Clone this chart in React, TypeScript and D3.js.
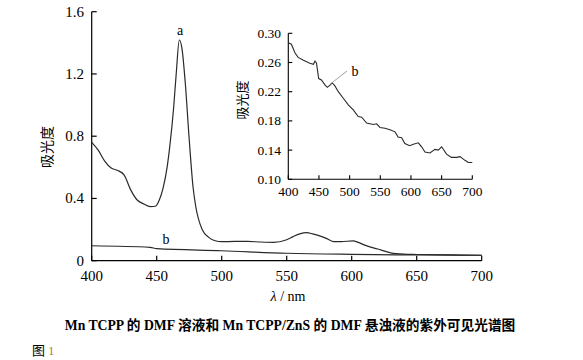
import React from "react";
import * as d3 from "d3";

const mainX = [400, 405, 410, 415, 420, 425, 430, 435, 440, 445, 449, 452, 455, 458, 460, 463, 465, 467.4, 469.5, 472, 475, 478, 480, 485, 490, 495, 500, 510, 520, 530, 540, 550, 555, 560, 565.4, 570, 580, 586, 592, 601, 605, 610, 620, 630, 640, 650, 675, 700];
const seriesA = [0.76, 0.71, 0.64, 0.595, 0.58, 0.55, 0.455, 0.39, 0.365, 0.347, 0.35, 0.39, 0.47, 0.6, 0.73, 0.98, 1.2, 1.418, 1.36, 1.14, 0.78, 0.47, 0.35, 0.2, 0.15, 0.128, 0.122, 0.124, 0.124, 0.12, 0.118, 0.135, 0.155, 0.172, 0.18, 0.172, 0.145, 0.123, 0.122, 0.128, 0.118, 0.1, 0.075, 0.05, 0.042, 0.04, 0.037, 0.035];

const bX = [400, 445, 450, 500, 550, 600, 650, 700];
const seriesB = [0.096, 0.086, 0.077, 0.064, 0.048, 0.041, 0.037, 0.035];

const insetX = [400, 405, 411, 416, 424, 435, 441, 443.5, 446, 449.5, 454, 460, 463.6, 468, 471.7, 476, 481.5, 489.7, 497.8, 506, 514, 519.6, 527.7, 538.6, 544, 549.5, 557.6, 565.8, 574, 579, 584.8, 590, 598, 603.8, 612, 617.4, 622.8, 631, 639.1, 644.6, 650, 658, 666, 674.5, 680, 688, 693.5, 700];
const insetB = [0.287, 0.285, 0.273, 0.267, 0.2635, 0.259, 0.2575, 0.262, 0.259, 0.238, 0.236, 0.229, 0.226, 0.229, 0.232, 0.228, 0.22, 0.211, 0.202, 0.195, 0.186, 0.185, 0.177, 0.175, 0.176, 0.171, 0.17, 0.168, 0.165, 0.158, 0.157, 0.149, 0.146, 0.148, 0.15, 0.1445, 0.1375, 0.136, 0.141, 0.14, 0.1445, 0.1345, 0.13, 0.13, 0.131, 0.126, 0.123, 0.123];

const mainXTicks = [400, 450, 500, 550, 600, 650, 700];
const mainYTicks = [0, 0.4, 0.8, 1.2, 1.6];
const mainYTickLabels = ["0", "0.4", "0.8", "1.2", "1.6"];
const insetXTicks = [400, 450, 500, 550, 600, 650, 700];
const insetYTicks = [0.1, 0.14, 0.18, 0.22, 0.26, 0.3];

const serif = "'Liberation Serif', 'Times New Roman', serif";
const cjk = "'Noto Sans CJK SC', sans-serif";
const lineColor = "#2a2a2a";

export default function App() {
  const x = d3.scaleLinear().domain([400, 700]).range([91.7, 481.7]);
  const y = d3.scaleLinear().domain([0, 1.6]).range([260.7, 11.7]);
  const xi = d3.scaleLinear().domain([400, 700]).range([288.3, 472.3]);
  const yi = d3.scaleLinear().domain([0.1, 0.3]).range([179.3, 33.3]);

  const lineA = d3.line<number>().x((_, i) => x(mainX[i])).y((d) => y(d)).curve(d3.curveMonotoneX);
  const lineB = d3.line<number>().x((_, i) => x(bX[i])).y((d) => y(d)).curve(d3.curveMonotoneX);
  const lineI = d3.line<number>().x((_, i) => xi(insetX[i])).y((d) => yi(d)).curve(d3.curveLinear);

  return (
    <svg width={583} height={360} style={{ position: "absolute", left: 0, top: 0, background: "#fff" }}>
      {/* main axes */}
      <g stroke="#000" strokeWidth={1.2} fill="none">
        <line x1={x(400)} x2={x(400)} y1={y(1.6)} y2={y(0)} />
        <line x1={x(400)} x2={x(700)} y1={y(0)} y2={y(0)} />
        {mainYTicks.map((t) => (
          <line key={"my" + t} x1={x(400)} x2={x(400) + 5} y1={y(t)} y2={y(t)} />
        ))}
        {mainXTicks.map((t) => (
          <line key={"mx" + t} x1={x(t)} x2={x(t)} y1={y(0)} y2={y(0) - 5} />
        ))}
      </g>
      <g fontFamily={serif} fontSize={15} fill="#000">
        {mainYTicks.map((t, i) => (
          <text key={"myl" + t} x={84} y={y(t) + 5} textAnchor="end">{mainYTickLabels[i]}</text>
        ))}
        {mainXTicks.map((t) => (
          <text key={"mxl" + t} x={x(t)} y={281} textAnchor="middle">{t}</text>
        ))}
        <text x={288} y={301} textAnchor="middle" fontSize={14}>
          <tspan fontStyle="italic">λ</tspan> / nm
        </text>
        <text x={180} y={35} textAnchor="middle" fontSize={14}>a</text>
        <text x={166} y={244} textAnchor="middle" fontSize={14}>b</text>
      </g>
      <text transform={`translate(52,147) rotate(-90)`} textAnchor="middle" fontFamily={cjk} fontSize={14}>吸光度</text>
      <path d={lineA(seriesA) || ""} fill="none" stroke={lineColor} strokeWidth={1.2} />
      <path d={lineB(seriesB) || ""} fill="none" stroke={lineColor} strokeWidth={1.2} />

      {/* inset */}
      <g stroke="#000" strokeWidth={1.1} fill="none">
        <line x1={xi(400)} x2={xi(400)} y1={yi(0.3)} y2={yi(0.1)} />
        <line x1={xi(400)} x2={xi(700)} y1={yi(0.1)} y2={yi(0.1)} />
        {insetYTicks.map((t) => (
          <line key={"iy" + t} x1={xi(400)} x2={xi(400) + 4} y1={yi(t)} y2={yi(t)} />
        ))}
        {insetXTicks.map((t) => (
          <line key={"ix" + t} x1={xi(t)} x2={xi(t)} y1={yi(0.1)} y2={yi(0.1) - 4} />
        ))}
      </g>
      <g fontFamily={serif} fontSize={13.5} fill="#000">
        {insetYTicks.map((t) => (
          <text key={"iyl" + t} x={281} y={yi(t) + 4.5} textAnchor="end">{t.toFixed(2)}</text>
        ))}
        {insetXTicks.map((t) => (
          <text key={"ixl" + t} x={xi(t)} y={196} textAnchor="middle">{t}</text>
        ))}
        <text x={355} y={76} textAnchor="middle" fontSize={14}>b</text>
      </g>
      <text transform={`translate(247,100) rotate(-90)`} textAnchor="middle" fontFamily={cjk} fontSize={13}>吸光度</text>
      <path d={lineI(insetB) || ""} fill="none" stroke={lineColor} strokeWidth={1.1} />
      <line x1={xi(468.5)} y1={yi(0.2305)} x2={347} y2={71} stroke="#888" strokeWidth={0.8} />

      {/* caption */}
      <text x={290} y={330} textAnchor="middle" fontFamily={`${serif}, ${cjk}`} fontWeight="bold" fontSize={13.7}>
        Mn TCPP 的 DMF 溶液和 Mn TCPP/ZnS 的 DMF 悬浊液的紫外可见光谱图
      </text>
      <text x={32} y={355} fontFamily={cjk} fontSize={13} fill="#000">图 <tspan fill="#b8860b" fontFamily={serif}>1</tspan></text>
    </svg>
  );
}
